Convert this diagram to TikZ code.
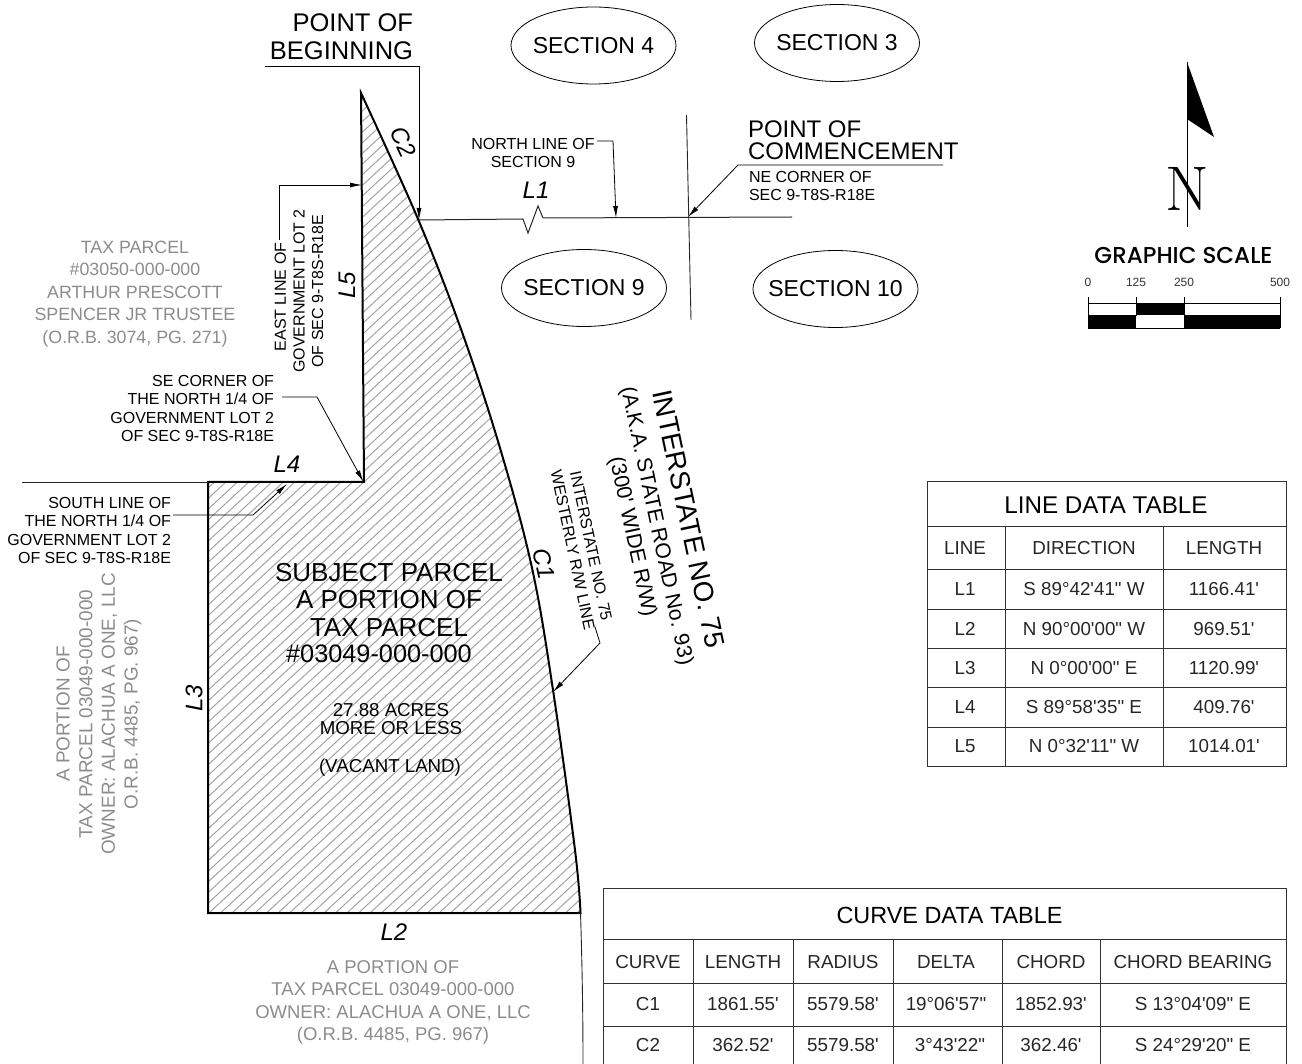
\documentclass[tikz,border=0pt]{standalone}
\usepackage{fontspec}
\newfontfamily\arial{Liberation Sans}
\newfontfamily\gfont{Poppins Medium}
\usetikzlibrary{arrows.meta,shapes.geometric}
\newcommand\fsz[2]{\fontsize{#1}{#2}\selectfont\arial}
\tikzset{
  every node/.style={inner sep=0pt,outer sep=0pt},
  boundary/.style={line width=2pt,black,line join=miter},
  thinline/.style={line width=0.9pt,black!85},
  leader/.style={line width=0.8pt,black,-{Latex[length=12pt,width=5pt]}},
  sectionoval/.style={line width=0.8pt},
  sectiontext/.style={font=\fsz{23}{27}},
  note/.style={font=\fsz{16}{18.5},align=right},
  noteL/.style={font=\fsz{16}{18},align=left},
  noteC/.style={font=\fsz{16}{18.7},align=center},
  greytext/.style={font=\fsz{17.8}{22.6},text=black!45,align=center},
  tag/.style={font=\fsz{24}{24}\itshape},
  tablegrid/.style={line width=0.9pt,black!80},
  ttitle/.style={font=\fsz{24.2}{28}},
  tcell/.style={font=\fsz{18.8}{22},text=black!85},
  scalenum/.style={font=\fsz{12}{14},text=black!80},
}
\begin{document}
\begin{tikzpicture}[x=1pt,y=-1pt]
\useasboundingbox (0,0) rectangle (1302,1064);
% parcel
\def\parcelpath{(361,93) -- (364,482) -- (208,482) -- (208,913) -- (580.5,913) -- plot[smooth,tension=0.6] coordinates {(580.5,913) (575,850) (553,690) (532,568) (500,448) (462,332) (418,219) (361,93)} -- cycle}
\begin{scope}
  \clip \parcelpath;
  \foreach \i in {-80,...,100} {
    \draw[line width=1pt,black!36] ({\i*11.5},1000) -- ({\i*11.5+1080},0);
  }
\end{scope}
\draw[boundary] \parcelpath;
\coordinate (curveEnd) at (580.5,913);
\coordinate (curveOut) at (583,1064);
\draw[thinline] (curveEnd) .. controls (582,960) and (583,1010) .. (curveOut);
\coordinate (L4west) at (22,482);
\coordinate (L4corner) at (208,482);
\draw[thinline] (L4west) -- (L4corner);
% section lines
\coordinate (pobTip) at (419,220);
\coordinate (l1east) at (792,217);
\coordinate (vtop) at (686.5,115);
\coordinate (vbot) at (691,320);
\coordinate (z1) at (523,219);
\coordinate (z2) at (528,233);
\coordinate (z3) at (538,206);
\coordinate (z4) at (543,218);
\draw[thinline,line width=1pt] (pobTip) -- (z1) -- (z2) -- (z3) -- (z4) -- (l1east);
\draw[thinline] (vtop) -- (vbot);
% section ovals
\node[sectiontext] (sec4) at (593.5,45.5) {SECTION 4};
\node[sectiontext] (sec3) at (837,43) {SECTION 3};
\node[sectiontext] (sec9) at (584,288) {SECTION 9};
\node[sectiontext] (sec10) at (835.5,289) {SECTION 10};
\foreach \s in {sec4,sec3,sec9,sec10}
  \draw[sectionoval] (\s.center) ellipse [x radius=82.5pt,y radius=38.5pt];
% point of beginning
\node[font=\fsz{25.5}{28},align=right,anchor=east] (pob) at (413,37) {POINT OF\\BEGINNING};
\coordinate (pobA) at (265,66.5);
\coordinate (pobB) at (419,66.5);
\draw[leader] (pobA) -- (pobB) -- (pobTip);
% north line
\node[noteC] (northline) at (533,153) {NORTH LINE OF\\SECTION 9};
\coordinate (nlA) at (597,141);
\coordinate (nlB) at (613,141);
\coordinate (nlTip) at (616,218);
\draw[leader] (nlA) -- (nlB) -- (nlTip);
% commencement
\node[font=\fsz{24}{22},align=left,anchor=west] (poc) at (748,140) {POINT OF\\COMMENCEMENT};
\node[noteL,anchor=west] (ne) at (749,186) {NE CORNER OF\\SEC 9-T8S-R18E};
\coordinate (pocA) at (943,165);
\coordinate (pocB) at (738,165);
\coordinate (pocTip) at (688,217);
\draw[leader] (pocA) -- (pocB) -- (pocTip);
% tags
\node[tag] (L1) at (536,190) {L1};
\node[tag] (L2) at (394,932) {L2};
\node[tag,rotate=90] (L3) at (194,698) {L3};
\node[tag] (L4) at (287,464) {L4};
\node[tag,rotate=90] (L5) at (347,285) {L5};
\node[tag,rotate=-65] (C2) at (403,142) {C2};
\node[tag,rotate=-78] (C1) at (544,564) {C1};
% east line
\node[noteC,rotate=90] (eastline) at (299,291) {EAST LINE OF\hspace*{12pt}\\GOVERNMENT LOT 2\\OF SEC 9-T8S-R18E};
\coordinate (elA) at (279,240);
\coordinate (elB) at (279,185);
\coordinate (elTip) at (362,185);
\draw[leader] (elA) -- (elB) -- (elTip);
% se corner
\node[note,anchor=east] (secorner) at (274,408.5) {SE CORNER OF\\THE NORTH 1/4 OF\\GOVERNMENT LOT 2\\OF SEC 9-T8S-R18E};
\coordinate (seA) at (282,397);
\coordinate (seB) at (317,397);
\coordinate (seTip) at (363.5,482);
\draw[leader] (seA) -- (seB) -- (seTip);
% south line
\node[note,anchor=east] (southline) at (171,530.5) {SOUTH LINE OF\\THE NORTH 1/4 OF\\GOVERNMENT LOT 2\\OF SEC 9-T8S-R18E};
\coordinate (slA) at (173,515);
\coordinate (slB) at (253,515);
\coordinate (slTip) at (287,484);
\draw[leader] (slA) -- (slB) -- (slTip);
% interstate
\node[font=\fsz{27.6}{30},rotate=-78] (i75a) at (689,519) {INTERSTATE NO. 75};
\node[font=\fsz{21.3}{24},rotate=-78] (i75b) at (656,526) {(A.K.A. STATE ROAD No. 93)};
\node[font=\fsz{21.3}{24},rotate=-78] (i75c) at (632,537) {(300' WIDE R/W)};
\node[noteC,rotate=-78] (i75d) at (582,548) {INTERSTATE NO. 75\\WESTERLY R/W LINE};
\coordinate (iA) at (595,627);
\coordinate (iB) at (600,643);
\coordinate (iTip) at (553,692);
\draw[leader] (iA) -- (iB) -- (iTip);
% parcel text
\node[font=\fsz{26}{27.3},align=center] (subj) at (389,600) {SUBJECT PARCEL\\A PORTION OF\\TAX PARCEL};
\node[font=\fsz{25.3}{27.3}] (subjnum) at (379,654) {\#03049-000-000};
\node[font=\fsz{18.7}{18},align=center] (acres) at (391,719) {27.88 ACRES\\MORE OR LESS};
\node[font=\fsz{18.7}{18}] (vacant) at (390,767.5) {(VACANT LAND)};
% grey text
\node[greytext] (taxW) at (135,294) {TAX PARCEL\\\#03050-000-000\\ARTHUR PRESCOTT\\SPENCER JR TRUSTEE\\(O.R.B. 3074, PG. 271)};
\node[greytext,rotate=90,font=\fsz{18.9}{22.6}] (taxS) at (99,714) {A PORTION OF\\TAX PARCEL 03049-000-000\\OWNER: ALACHUA A ONE, LLC\\O.R.B. 4485, PG. 967)};
\node[greytext,font=\fsz{18.5}{22.6}] (taxB) at (393,1002.5) {A PORTION OF\\TAX PARCEL 03049-000-000\\OWNER: ALACHUA A ONE, LLC\\(O.R.B. 4485, PG. 967)};
% north arrow
\coordinate (nTop) at (1187,62);
\coordinate (nBot) at (1187,227);
\coordinate (nFlagA) at (1214,137);
\coordinate (nFlagB) at (1187,119);
\fill[black] (nTop) -- (nFlagA) -- (nFlagB) -- cycle;
\node[font=\fontsize{63}{63}\selectfont\rmfamily] (northN) at (1187.5,189) {N};
\draw[line width=0.9pt] (nTop) -- (nBot);
% graphic scale
\node[font=\fontsize{23}{26}\selectfont\gfont] (gs) at (1183.5,255) {GRAPHIC SCALE};
\node[scalenum] (s0) at (1088,282) {0};
\node[scalenum] (s125) at (1136,282) {125};
\node[scalenum] (s250) at (1184,282) {250};
\node[scalenum] (s500) at (1280,282) {500};
\fill[black] (1136,303) rectangle (1184,315.5);
\fill[black] (1088,315.5) rectangle (1136,328);
\fill[black] (1184,315.5) rectangle (1280.5,328);
\draw[line width=0.7pt] (1088,303) -- (1280,303);
\draw[line width=0.7pt] (1088,328) -- (1280,328);
\foreach \x in {1088,1136,1184,1280} \draw[line width=0.7pt] (\x,297) -- (\x,316);
% line table
\draw[tablegrid] (927,481) rectangle (1286,766);
\foreach \y in {526,569,609,648,687,727} \draw[tablegrid] (927,\y) -- (1286,\y);
\foreach \x in {1005,1163} \draw[tablegrid] (\x,526) -- (\x,766);
\node[ttitle] (lttitle) at (1106,505) {LINE DATA TABLE};
\node[tcell] (lth1) at (965,548) {LINE};
\node[tcell] (lth2) at (1084,548) {DIRECTION};
\node[tcell] (lth3) at (1224,548) {LENGTH};
\foreach \n/\d/\l/\y in {L1/S 89°42'41" W/1166.41'/589, L2/N 90°00'00" W/969.51'/629, L3/N 0°00'00" E/1120.99'/668, L4/S 89°58'35" E/409.76'/707, L5/N 0°32'11" W/1014.01'/746} {
  \node[tcell] (lt\n a) at (965,\y) {\n};
  \node[tcell] (lt\n b) at (1084,\y) {\d};
  \node[tcell] (lt\n c) at (1224,\y) {\l};
}
% curve table
\draw[tablegrid] (603,1064) -- (603,888) -- (1286,888) -- (1286,1064);
\foreach \y in {939,983,1026} \draw[tablegrid] (603,\y) -- (1286,\y);
\foreach \x in {693,793.5,893.5,1002,1100.5} \draw[tablegrid] (\x,939) -- (\x,1064);
\node[ttitle,font=\fsz{23.4}{28}] (cttitle) at (949.5,915) {CURVE DATA TABLE};
\foreach \t/\x/\k in {CURVE/648/a,LENGTH/743/b,RADIUS/843/c,DELTA/946/d,CHORD/1051/e,CHORD BEARING/1193/f} {
  \node[tcell] (cth\k) at (\x,962) {\t};
}
\foreach \n/\l/\r/\d/\dx/\c/\b/\y in {C1/1861.55'/5579.58'/19°06'57"/946/1852.93'/S 13°04'09" E/1004, C2/362.52'/5579.58'/3°43'22"/950/362.46'/S 24°29'20" E/1045} {
  \node[tcell] (ct\n a) at (648,\y) {\n};
  \node[tcell] (ct\n b) at (743,\y) {\l};
  \node[tcell] (ct\n c) at (843,\y) {\r};
  \node[tcell] (ct\n d) at (\dx,\y) {\d};
  \node[tcell] (ct\n e) at (1051,\y) {\c};
  \node[tcell] (ct\n f) at (1193,\y) {\b};
}
\end{tikzpicture}
\end{document}
